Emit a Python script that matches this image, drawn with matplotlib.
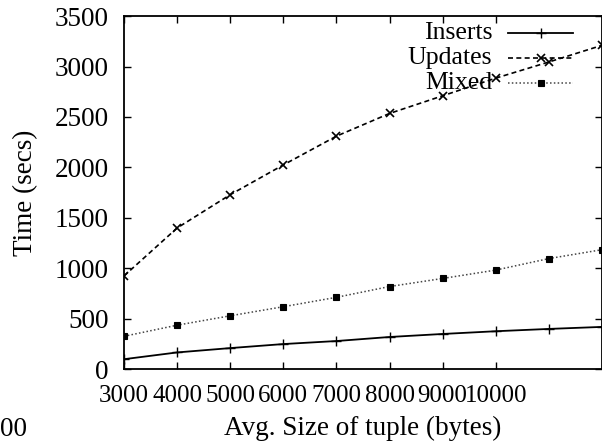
import matplotlib
matplotlib.use('Agg')
import matplotlib.pyplot as plt
from matplotlib.lines import Line2D

plt.rcParams['font.family'] = ['Liberation Serif', 'DejaVu Serif']
plt.rcParams['font.size'] = 19.5

# values
sizes = [3000, 4000, 5000, 6000, 7000, 8000, 9000, 10000, 11000, 12000]
inserts = [100, 167, 210, 250, 280, 320, 350, 377, 400, 420]
updates = [925, 1400, 1730, 2025, 2310, 2535, 2710, 2885, 3045, 3210]
mixed = [327, 437, 530, 620, 713, 820, 900, 983, 1097, 1185]

series_names = ['Inserts', 'Updates', 'Mixed']
xticks = [3000, 4000, 5000, 6000, 7000, 8000, 9000, 10000]
yticks = [0, 500, 1000, 1500, 2000, 2500, 3000, 3500]

styles = [
    dict(color='black', ls='-', lw=1.3, marker='+', ms=7, mew=1.0),
    dict(color='black', ls=(0, (3, 2)), lw=1.2, marker='x', ms=6, mew=1.2),
    dict(color='#444444', ls=(0, (1, 1.5)), lw=1.1, marker='s', ms=5, mew=0.8, mfc='black', mec='black'),
]

fig = plt.figure(figsize=(6.02, 4.46), dpi=100)
ax = fig.add_axes([0.206, 0.172, 0.794, 0.792])

for vals, st in zip([inserts, updates, mixed], styles):
    ax.plot(sizes, vals, **st)

ax.set_xlim(3000, 12000)
ax.set_ylim(0, 3500)
ax.set_xticks(xticks)
ax.set_yticks(yticks)
ax.tick_params(direction='in', top=True, right=True, length=5, width=1.0)
ax.tick_params(axis='y', pad=11)
ax.tick_params(axis='x', pad=11, labelsize=18)
for s in ax.spines.values():
    s.set_linewidth(1.3)

ax.set_xlabel('Avg. Size of tuple (bytes)', labelpad=7)
ax.set_ylabel('Time (secs)', labelpad=12)

# gnuplot-style key: right-aligned text, sample to the right
key_y = [0.952, 0.881, 0.810]
for name, st, ky in zip(series_names, styles, key_y):
    ax.text(0.770, ky, name, transform=ax.transAxes, ha='right', va='center', fontsize=18.5)
    line_st = {k: v for k, v in st.items() if k not in ('marker', 'ms', 'mew', 'mfc', 'mec')}
    ax.add_line(Line2D([0.803, 0.939], [ky, ky], transform=ax.transAxes, **line_st))
    mk_st = {k: v for k, v in st.items() if k not in ('ls', 'lw')}
    ax.add_line(Line2D([0.872], [ky], transform=ax.transAxes, ls='none', **mk_st))

# cut-off text at bottom-left of the scan
fig.text(0.0, 1 - 430 / 446, '00', ha='left', va='center')

fig.savefig('out.png', dpi=100)
